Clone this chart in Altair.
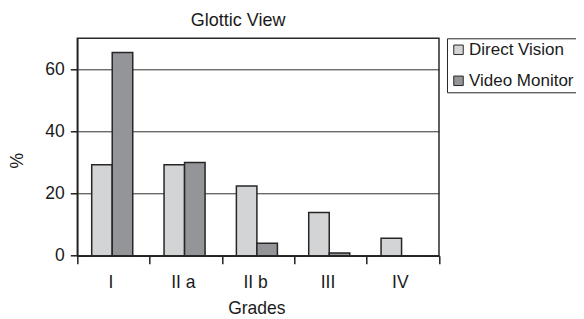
import altair as alt
import pandas as pd

grades = ["I", "II a", "II b", "III", "IV"]
series = ["Direct Vision", "Video Monitor"]
direct_vision = [29.3, 29.3, 22.4, 13.9, 5.6]
video_monitor = [65.4, 30.0, 4.0, 0.9, 0.0]
y_ticks = [0, 20, 40, 60]

rows = []
for g, d, v in zip(grades, direct_vision, video_monitor):
    rows.append({"Grade": g, "Series": series[0], "Value": d})
    rows.append({"Grade": g, "Series": series[1], "Value": v})
df = pd.DataFrame(rows)

FONT = "Liberation Sans"
FS = 17.5
W = 361.7
H = 217.4

bars = alt.Chart(df).mark_bar(stroke="#262626", strokeWidth=1.5).encode(
    x=alt.X("Grade:N", sort=grades,
            scale=alt.Scale(paddingInner=0, paddingOuter=0),
            axis=alt.Axis(title="Grades", labelAngle=0, tickBand="extent",
                          tickSize=8, tickColor="#222", tickWidth=1.5,
                          domainColor="#222", domainWidth=1.5,
                          labelFont=FONT, labelFontSize=FS, labelColor="#1a1a1a",
                          labelPadding=10, labelOffset=-3,
                          titleFont=FONT, titleFontSize=FS, titleFontWeight="normal",
                          titleColor="#1a1a1a", titleX=179, titleY=58,
                          titleBaseline="alphabetic", titleAlign="center")),
    xOffset=alt.XOffset("Series:N", sort=series,
                        scale=alt.Scale(paddingInner=0, paddingOuter=0.763, align=0.46)),
    y=alt.Y("Value:Q",
            scale=alt.Scale(domain=[0, 70], nice=False),
            axis=alt.Axis(title="%", values=y_ticks, tickSize=7, tickColor="#222",
                          tickWidth=1.5, domainColor="#222", domainWidth=1.5,
                          grid=True, gridColor="#2e2e2e", gridWidth=1,
                          labelFont=FONT, labelFontSize=FS, labelColor="#1a1a1a",
                          labelPadding=6,
                          titleFont=FONT, titleFontSize=FS, titleFontWeight="normal",
                          titleColor="#1a1a1a", titleX=-60, titleY=122,
                          titleAlign="center", titleBaseline="middle", titleAngle=-90)),
    fill=alt.Fill("Series:N", sort=series,
                  scale=alt.Scale(domain=series, range=["#d3d4d6", "#939598"]),
                  legend=alt.Legend(title=None, orient="none", legendX=369.7, legendY=0,
                                    symbolType="square", symbolSize=90,
                                    symbolStrokeColor="#262626", symbolStrokeWidth=1,
                                    labelFont=FONT, labelFontSize=17, labelColor="#1a1a1a",
                                    labelOffset=2, rowPadding=13, padding=3,
                                    strokeColor="#262626", fillColor="white")),
)

chart = bars.properties(
    width=W, height=H,
    title=alt.Title("Glottic View", font=FONT, fontSize=18, fontWeight="normal",
                    color="#1a1a1a", anchor="middle", frame="group", dx=-20, dy=18,
                    baseline="alphabetic", offset=12),
    autosize=alt.AutoSizeParams(type="none"),
    padding={"left": 69.3, "top": 30.3, "right": 137, "bottom": 63},
).configure_view(stroke="#2a2a2a", strokeWidth=1.5)

chart.save("out.html", embed_options={"renderer": "svg", "actions": False})
